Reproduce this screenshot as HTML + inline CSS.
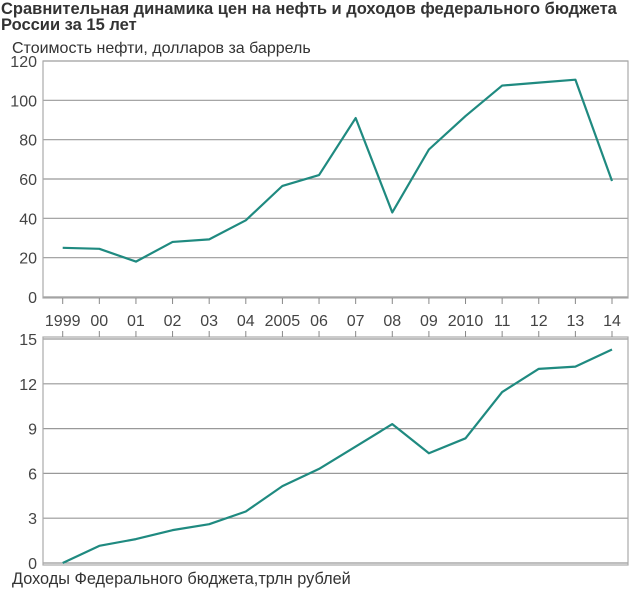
<!DOCTYPE html>
<html><head><meta charset="utf-8"><style>
body{margin:0;background:#fff;font-family:"Liberation Sans","DejaVu Sans",sans-serif}
svg text{font-family:"Liberation Sans","DejaVu Sans",sans-serif}
</style></head><body>
<svg id="c" width="640" height="596" xmlns="http://www.w3.org/2000/svg">
<text x="1" y="14" font-size="16.5" font-weight="bold" fill="#333">Сравнительная динамика цен на нефть и доходов федерального бюджета</text>
<text x="1" y="30" font-size="16.5" font-weight="bold" fill="#333">России за 15 лет</text>
<text x="12" y="53" font-size="16" fill="#333">Стоимость нефти, долларов за баррель</text>
<text x="12" y="584" font-size="16.3" fill="#333">Доходы Федерального бюджета,трлн рублей</text>
<g id="g"></g>
</svg>
<script>
const years=["1999","00","01","02","03","04","2005","06","07","08","09","2010","11","12","13","14"];
const oilValues=[25,24.5,18,28,29.3,39,56.5,62,91,43,75,92,107.5,109,110.5,59];
const budgetValues=[0,1.15,1.6,2.2,2.6,3.45,5.15,6.3,7.8,9.3,7.35,8.35,11.45,13.0,13.15,14.3];
const oilTicks=[0,20,40,60,80,100,120];
const budgetTicks=[0,3,6,9,12,15];
const NS="http://www.w3.org/2000/svg",g=document.getElementById('g');
function mk(t,a){const e=document.createElementNS(NS,t);for(const k in a)e.setAttribute(k,a[k]);g.appendChild(e);return e;}
const L=43,R=628;
const x=i=>62.7+i*(612-62.7)/(years.length-1);
const y1=v=>297-v*(297-61)/120;
const y2=v=>563-v*(563-339)/15;
function panel(top,bot,ticks,yf,vals,name){
  ticks.forEach(t=>{
    const l=mk('line',{x1:L,x2:R,y1:yf(t),y2:yf(t),stroke:'#999','stroke-width':1.2});
    
    const tx=mk('text',{x:37,y:yf(t)+6,'font-size':16,fill:'#444','text-anchor':'end'});tx.textContent=t;
    
  });
  const b=mk('rect',{x:L,y:top,width:R-L,height:bot-top,fill:'none',stroke:'#aaa','stroke-width':1.2});
  
  const p=mk('polyline',{points:vals.map((v,i)=>x(i)+','+yf(v)).join(' '),fill:'none',stroke:'#1f8a80','stroke-width':2.2,'stroke-linejoin':'round'});
  
}
panel(61,298,oilTicks,y1,oilValues,'oil');
panel(337,565,budgetTicks,y2,budgetValues,'budget');
years.forEach((yr,i)=>{
  const t1=mk('line',{x1:x(i),x2:x(i),y1:298,y2:304,stroke:'#888'});
  
  const t2=mk('line',{x1:x(i),x2:x(i),y1:331,y2:337,stroke:'#888'});
  
  const t=mk('text',{x:x(i),y:326,'font-size':16,fill:'#444','text-anchor':'middle'});t.textContent=yr;
  
});
</script>
</body></html>
